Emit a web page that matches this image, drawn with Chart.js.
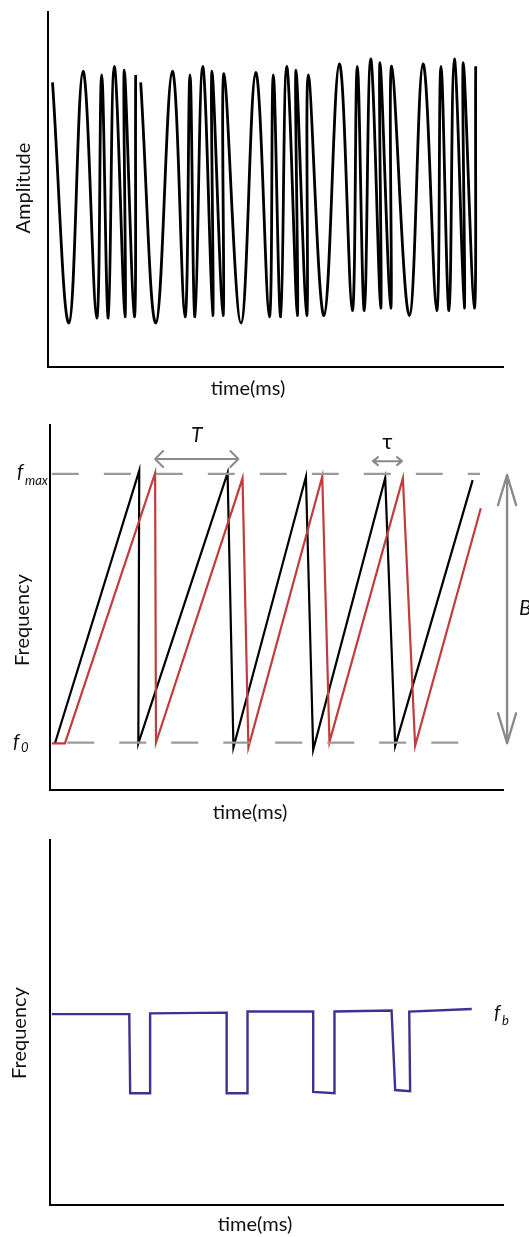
<!DOCTYPE html>
<html>
<head>
<meta charset="utf-8">
<script src="https://cdn.jsdelivr.net/npm/chart.js@4.4.0/dist/chart.umd.min.js"></script>
<style>
  html, body { margin: 0; padding: 0; background: #fff; }
  .panel { position: absolute; left: 0; width: 529px; }
</style>
</head>
<body>
<div class="panel" style="top:0;height:405px"><canvas id="chirp"></canvas></div>
<div class="panel" style="top:405px;height:420px"><canvas id="sweep"></canvas></div>
<div class="panel" style="top:825px;height:412px"><canvas id="beat"></canvas></div>
<script>
// top panel: peaks and troughs of the chirp signal (time in % of axis, amplitude)
const chirpTime = [0.99, 4.62, 7.69, 10.70, 11.80, 13.25, 14.57, 16.92, 16.77, 18.97, 19.27, 19.5,
  20.37, 23.74, 27.32, 30.11, 31.21, 32.31, 34.00, 36.20, 36.04, 38.46, 38.68,
  42.42, 45.65, 48.64, 49.52, 51.14, 52.46, 54.79, 54.51, 56.86, 57.21,
  60.66, 64.02, 66.88, 67.98, 69.52, 70.92, 73.12, 72.97, 75.32, 75.54,
  79.41, 82.42, 85.43, 86.37, 88.13, 89.30, 91.49, 91.27, 93.69, 94.00];
const chirpAmp = [0.90, -1.04, 0.99, -1.00, 0.96, -1.00, 1.03, -0.99, 1.00, -0.99, 0.96, null,
  0.90, -1.04, 0.99, -0.99, 0.96, -0.99, 1.03, -0.98, 0.99, -0.98, 0.97,
  -1.04, 0.98, -0.99, 0.96, -0.99, 1.03, -0.98, 1.00, -0.98, 0.96,
  -0.98, 1.05, -0.94, 1.03, -0.94, 1.09, -0.92, 1.06, -0.92, 1.03,
  -0.98, 1.05, -0.94, 1.03, -0.94, 1.09, -0.92, 1.06, -0.92, 1.03];

// middle panel: transmitted (black) and received (red) sweeps
const txTime = [1.1, 19.7, 19.5, 39.2, 40.5, 56.5, 58.1, 74.0, 76.2, 93.3];
const txFreq = [12.8, 87.5, 12.8, 86.9, 11.7, 85.8, 11.0, 85.5, 12.1, 84.9];
const rxTime = [0.4, 3.3, 23.2, 23.4, 42.5, 43.8, 60.1, 61.7, 77.9, 80.6, 95.1];
const rxFreq = [12.8, 12.8, 86.8, 13.0, 85.4, 11.7, 85.8, 13.2, 85.4, 12.1, 77.2];
const fMax = 86.6;
const f0 = 13.0;
const fMaxSpan = [0.4, 94.9];
const f0Span = [3.8, 94.9];
const periodArrow = [23.2, 41.6, 90.7];   // x from, x to, y
const delayArrow = [71.3, 77.7, 90.1];
const bandArrow = [100.9, 86.3, 12.8];    // x, y from, y to

// bottom panel: beat frequency
const beatTime = [0.4, 17.5, 17.7, 22.1, 22.1, 39.0, 39.0, 43.6, 43.6, 58.1, 58.1, 62.8, 62.8, 75.4, 76.2, 79.5, 79.3, 93.1];
const beatFreq = [52.3, 52.3, 30.6, 30.6, 52.5, 52.7, 30.6, 30.6, 53.0, 53.0, 31.0, 30.6, 53.0, 53.3, 31.5, 31.2, 53.0, 53.7];

const FONT = 'Lato, "Noto Sans", sans-serif';

function pts(xs, ys) {
  return xs.map((x, i) => ({ x: x, y: ys[i] }));
}

function axis(min, max) {
  return {
    type: 'linear', min: min, max: max,
    grid: { display: false, drawTicks: false },
    border: { display: true, color: '#000', width: 2 },
    ticks: { display: false }
  };
}

function drawArrow(ctx, p1, p2, back, half) {
  ctx.beginPath();
  ctx.moveTo(p1.x, p1.y);
  ctx.lineTo(p2.x, p2.y);
  const len = Math.hypot(p2.x - p1.x, p2.y - p1.y);
  const ux = (p2.x - p1.x) / len, uy = (p2.y - p1.y) / len;
  [[p1, 1], [p2, -1]].forEach(([p, s]) => {
    const bx = p.x + s * ux * back, by = p.y + s * uy * back;
    ctx.moveTo(bx - uy * half, by + ux * half);
    ctx.lineTo(p.x, p.y);
    ctx.lineTo(bx + uy * half, by - ux * half);
  });
  ctx.stroke();
}

// draws labels (and arrows) on top of the datasets
const overlay = {
  id: 'overlay',
  afterDatasetsDraw(chart, args, opts) {
    const ctx = chart.ctx;
    ctx.save();
    (opts.arrows || []).forEach(a => {
      ctx.strokeStyle = a.color || '#8a8a8a';
      ctx.lineWidth = a.width || 2;
      ctx.lineCap = 'round';
      ctx.lineJoin = 'round';
      const e = a.ends(chart);
      drawArrow(ctx, e[0], e[1], a.back, a.half);
    });
    (opts.labels || []).forEach(l => {
      const p = l.at(chart);
      ctx.save();
      ctx.translate(p.x, p.y);
      if (l.rotate) ctx.rotate(l.rotate);
      ctx.fillStyle = '#111';
      ctx.font = l.font;
      ctx.textAlign = l.align || 'center';
      ctx.textBaseline = l.baseline || 'middle';
      ctx.fillText(l.text, 0, 0);
      if (l.sub) {
        ctx.font = l.subFont;
        ctx.textAlign = 'left';
        ctx.fillText(l.sub, l.subDx, l.subDy);
      }
      ctx.restore();
    });
    ctx.restore();
  }
};

function baseOptions(padding, xs, ys, extra) {
  return {
    responsive: true,
    maintainAspectRatio: false,
    animation: false,
    events: [],
    layout: { padding: padding },
    scales: { x: xs, y: ys },
    plugins: { legend: { display: false }, tooltip: { enabled: false }, overlay: extra }
  };
}

const axisTitle = '20px ' + FONT;
const ylab = (text, x, y) => ({ text: text, font: axisTitle, rotate: -Math.PI / 2, at: () => ({ x: x, y: y }) });
const xlab = (text, x, y) => ({ text: text, font: axisTitle, at: () => ({ x: x, y: y }) });

// top: amplitude
new Chart(document.getElementById('chirp'), {
  type: 'line',
  data: {
    datasets: [{
      data: pts(chirpTime, chirpAmp),
      borderColor: '#000', borderWidth: 2.8, pointRadius: 0, tension: 0.4, spanGaps: false
    }]
  },
  options: baseOptions({ left: 48, right: 26, top: 12, bottom: 38 }, axis(0, 100), axis(-1.395, 1.468), {
    labels: [ylab('Amplitude', 24, 188), xlab('time(ms)', 248, 389)]
  }),
  plugins: [overlay]
});

// middle: frequency sweeps
const gray = '#9a9a9a';
new Chart(document.getElementById('sweep'), {
  type: 'line',
  data: {
    datasets: [
      { data: pts(fMaxSpan, [fMax, fMax]), borderColor: gray, borderWidth: 2.2, borderDash: [27, 25], pointRadius: 0 },
      { data: pts(f0Span, [f0, f0]), borderColor: gray, borderWidth: 2.2, borderDash: [27, 25], pointRadius: 0 },
      { data: pts(rxTime, rxFreq), borderColor: '#c23b3d', borderWidth: 2.2, pointRadius: 0, tension: 0 },
      { data: pts(txTime, txFreq), borderColor: '#000', borderWidth: 2.2, pointRadius: 0, tension: 0 }
    ]
  },
  options: baseOptions({ left: 50, right: 26, top: 20, bottom: 35 }, axis(0, 100), axis(0, 100), {
    arrows: [
      { back: 8, half: 8, ends: c => [
        { x: c.scales.x.getPixelForValue(periodArrow[0]), y: c.scales.y.getPixelForValue(periodArrow[2]) },
        { x: c.scales.x.getPixelForValue(periodArrow[1]), y: c.scales.y.getPixelForValue(periodArrow[2]) }] },
      { back: 5, half: 4, ends: c => [
        { x: c.scales.x.getPixelForValue(delayArrow[0]), y: c.scales.y.getPixelForValue(delayArrow[2]) },
        { x: c.scales.x.getPixelForValue(delayArrow[1]), y: c.scales.y.getPixelForValue(delayArrow[2]) }] },
      { back: 30, half: 9, width: 2.4, ends: c => [
        { x: c.scales.x.getPixelForValue(bandArrow[0]), y: c.scales.y.getPixelForValue(bandArrow[1]) },
        { x: c.scales.x.getPixelForValue(bandArrow[0]), y: c.scales.y.getPixelForValue(bandArrow[2]) }] }
    ],
    labels: [
      ylab('Frequency', 23, 215), xlab('time(ms)', 250, 408),
      { text: 'f', font: 'italic 20px ' + FONT, align: 'left', baseline: 'alphabetic',
        sub: 'max', subFont: 'italic 13px ' + FONT, subDx: 8, subDy: 7,
        at: c => ({ x: 17, y: c.scales.y.getPixelForValue(fMax) + 4 }) },
      { text: 'f', font: 'italic 20px ' + FONT, align: 'left', baseline: 'alphabetic',
        sub: '0', subFont: 'italic 13px ' + FONT, subDx: 8, subDy: 4,
        at: c => ({ x: 13, y: c.scales.y.getPixelForValue(f0) + 5 }) },
      { text: 'T', font: 'italic 21px ' + FONT,
        at: c => ({ x: c.scales.x.getPixelForValue((periodArrow[0] + periodArrow[1]) / 2), y: c.scales.y.getPixelForValue(periodArrow[2]) - 24 }) },
      { text: 'τ', font: '22px ' + FONT,
        at: c => ({ x: c.scales.x.getPixelForValue((delayArrow[0] + delayArrow[1]) / 2), y: c.scales.y.getPixelForValue(delayArrow[2]) - 19 }) },
      { text: 'B', font: 'italic 21px ' + FONT, align: 'left',
        at: c => ({ x: 519, y: c.scales.y.getPixelForValue((fMax + f0) / 2) }) }
    ]
  }),
  plugins: [overlay]
});

// bottom: beat frequency
new Chart(document.getElementById('beat'), {
  type: 'line',
  data: {
    datasets: [{
      data: pts(beatTime, beatFreq),
      borderColor: '#3c3391', borderWidth: 2.4, pointRadius: 0, tension: 0
    }]
  },
  options: baseOptions({ left: 50, right: 26, top: 15, bottom: 32 }, axis(0, 100), axis(0, 100), {
    labels: [
      ylab('Frequency', 20, 208), xlab('time(ms)', 255, 400),
      { text: 'f', font: 'italic 20px ' + FONT, align: 'left', baseline: 'alphabetic',
        sub: 'b', subFont: 'italic 13px ' + FONT, subDx: 8, subDy: 6,
        at: c => ({ x: 494, y: c.scales.y.getPixelForValue(beatFreq[beatFreq.length - 1]) + 10 }) }
    ]
  }),
  plugins: [overlay]
});
</script>
</body>
</html>
